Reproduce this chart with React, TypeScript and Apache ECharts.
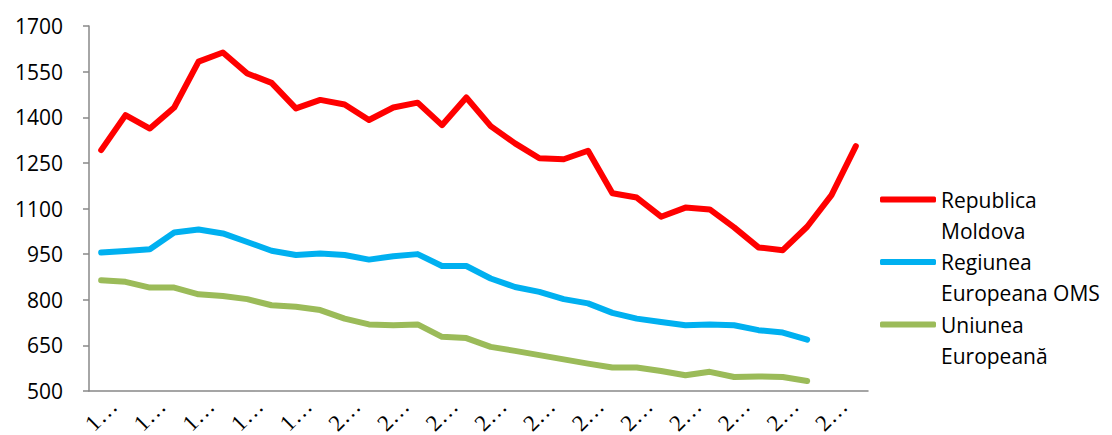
import React, { useEffect, useRef } from "react";
import * as echarts from "echarts";

const years: string[] = [];
for (let y = 1990; y <= 2021; y++) years.push(String(y));

const seriesNames = ["Republica\nMoldova", "Regiunea\nEuropeana OMS", "Uniunea\nEuropeană"];

const moldova = [
  1292, 1407, 1363, 1432, 1583, 1613, 1544, 1513, 1429, 1457, 1442, 1391, 1432, 1448, 1374, 1465,
  1371, 1314, 1265, 1262, 1290, 1150, 1136, 1073, 1103, 1097, 1038, 972, 963, 1040, 1144, 1305,
];
const regiunea = [
  955, 960, 966, 1021, 1031, 1018, 990, 961, 947, 952, 947, 932, 943, 950, 911, 911,
  870, 842, 826, 802, 788, 757, 738, 727, 716, 719, 716, 700, 692, 669, null, null,
];
const uniunea = [
  864, 859, 840, 840, 818, 812, 802, 782, 777, 766, 738, 719, 716, 719, 678, 674,
  645, 632, 618, 604, 590, 577, 577, 566, 552, 563, 546, 548, 546, 533, null, null,
];

const colors = ["#FF0000", "#00B0F0", "#9BBB59"];

export default function App() {
  const ref = useRef<HTMLDivElement>(null);
  useEffect(() => {
    document.body.style.margin = "0";
    if (!ref.current) return;
    const chart = echarts.init(ref.current, null, { renderer: "svg" });
    const values = [moldova, regiunea, uniunea];
    chart.setOption({
      animation: false,
      backgroundColor: "#ffffff",
      grid: { left: 89, right: 244, top: 26, bottom: 44, containLabel: false, outerBoundsMode: "none" },
      legend: {
        orient: "vertical",
        left: 880,
        top: 153,
        padding: 0,
        itemWidth: 56,
        itemHeight: 6,
        itemGap: -30.5,
        icon: "roundRect",
        data: seriesNames,
        formatter: (name: string) => "\n" + name,
        textStyle: {
          fontFamily: "Open Sans",
          fontSize: 21,
          color: "#000",
          lineHeight: 31,
        },
      },
      xAxis: {
        type: "category",
        data: years,
        boundaryGap: true,
        axisLine: { lineStyle: { color: "#888888", width: 1.5 } },
        axisTick: { interval: 0, length: 6, lineStyle: { color: "#888888", width: 1.5 } },
        axisLabel: {
          interval: 1,
          rotate: 45,
          align: "center",
          verticalAlign: "middle",
          margin: 24,
          lineHeight: 16,
          fontFamily: "Liberation Serif",
          fontSize: 23,
          color: "#000",
          formatter: (v: string) => v.charAt(0) + "…",
        },
      },
      yAxis: {
        type: "value",
        min: 500,
        max: 1700,
        interval: 150,
        splitLine: { show: false },
        axisLine: { show: true, lineStyle: { color: "#888888", width: 1.5 } },
        axisTick: { show: true, length: 6, lineStyle: { color: "#888888", width: 1.5 } },
        axisLabel: {
          margin: 26,
          fontFamily: "Open Sans",
          fontSize: 21,
          color: "#000",
          formatter: (v: number) => String(v),
        },
      },
      series: seriesNames.map((name, i) => ({
        name,
        type: "line",
        data: values[i],
        showSymbol: false,
        symbol: "none",
        color: colors[i],
        lineStyle: { width: 6, color: colors[i], cap: "round", join: "round" },
      })),
    });
    return () => chart.dispose();
  }, []);
  return <div ref={ref} style={{ width: 1112, height: 435 }} />;
}
